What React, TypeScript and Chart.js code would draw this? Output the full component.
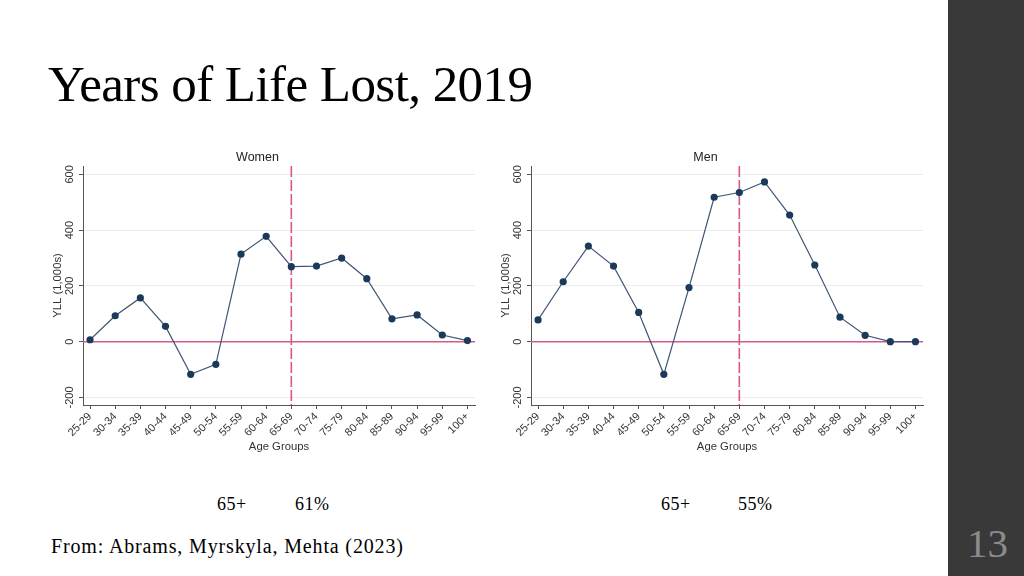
import React, { useEffect, useRef } from "react";
import { Chart, registerables } from "chart.js";

Chart.register(...registerables);

// ---------- data ----------
const ageGroups = [
  "25-29", "30-34", "35-39", "40-44", "45-49", "50-54", "55-59", "60-64",
  "65-69", "70-74", "75-79", "80-84", "85-89", "90-94", "95-99", "100+",
];
const womenYLL = [7, 93, 157, 55, -117, -81, 314, 378, 269, 271, 300, 226, 82, 96, 24, 4];
const menYLL = [78, 215, 343, 271, 105, -117, 194, 518, 535, 573, 454, 275, 88, 23, 0, 0];
const yTicks = [-200, 0, 200, 400, 600];
const cutoffGroup = "65-69";
const panelTitles = ["Women", "Men"];
const olderLabel = "65+";
const olderShares = ["61%", "55%"];
const slideTitle = "Years of Life Lost, 2019";
const sourceText = "From: Abrams, Myrskyla, Mehta (2023)";
const slideNumber = "13";

const SANS = '"Liberation Sans", Arial, sans-serif';
const SERIF = '"Liberation Serif", "Times New Roman", serif';

const refLinesPlugin = {
  id: "refLines",
  beforeDatasetsDraw(chart: any) {
    const { ctx, chartArea, scales } = chart;
    const x = scales.x;
    const y = scales.y;
    ctx.save();
    ctx.strokeStyle = "#d6588a";
    ctx.lineWidth = 1.6;
    const y0 = y.getPixelForValue(0);
    ctx.beginPath();
    ctx.moveTo(chartArea.left, y0);
    ctx.lineTo(chartArea.right, y0);
    ctx.stroke();
    const xc = x.getPixelForValue(ageGroups.indexOf(cutoffGroup));
    ctx.setLineDash([11, 3]);
    ctx.beginPath();
    ctx.moveTo(xc, chartArea.top);
    ctx.lineTo(xc, chartArea.bottom);
    ctx.stroke();
    ctx.restore();
  },
};

const yLabelPlugin = {
  id: "yLabels",
  afterDraw(chart: any) {
    const { ctx } = chart;
    const y = chart.scales.y;
    ctx.save();
    ctx.font = `11px ${SANS}`;
    ctx.fillStyle = "#333";
    ctx.textAlign = "center";
    ctx.textBaseline = "middle";
    for (const t of y.ticks) {
      ctx.save();
      ctx.translate(y.right - 13.5, y.getPixelForValue(t.value));
      ctx.rotate(-Math.PI / 2);
      ctx.fillText(String(t.value), 0, 0);
      ctx.restore();
    }
    ctx.restore();
  },
};

function Panel({ title, values, left }: { title: string; values: number[]; left: number }) {
  const ref = useRef<HTMLCanvasElement>(null);
  useEffect(() => {
    const chart = new Chart(ref.current as HTMLCanvasElement, {
      type: "line",
      data: {
        datasets: [
          {
            data: values.map((v, i) => ({ x: i, y: v })),
            borderColor: "#3e5674",
            borderWidth: 1.2,
            pointRadius: 3.6,
            pointBackgroundColor: "#1b3a5b",
            pointBorderWidth: 0,
            tension: 0,
          },
        ],
      },
      options: {
        animation: false,
        responsive: false,
        layout: { padding: { left: 0, right: 5, top: 0, bottom: 0 } },
        plugins: {
          legend: { display: false },
          tooltip: { enabled: false },
          title: {
            display: true,
            text: title,
            color: "#222",
            font: { family: SANS, size: 12.5, weight: "normal" as any },
            padding: { top: 10.5, bottom: 0.5 },
          },
        },
        scales: {
          x: {
            type: "linear",
            min: -0.28,
            max: 15.3,
            afterBuildTicks: (s: any) => {
              s.ticks = ageGroups.map((_, i) => ({ value: i }));
            },
            afterFit: (s: any) => {
              s.height = 55;
            },
            ticks: {
              autoSkip: false,
              minRotation: 45,
              maxRotation: 45,
              padding: 1,
              color: "#333",
              font: { family: SANS, size: 11 },
              callback: (v: any) => ageGroups[v] ?? "",
            },
            grid: {
              display: true,
              drawOnChartArea: false,
              drawTicks: true,
              tickLength: 4,
              tickColor: "#555",
            },
            border: { display: true, color: "#555", width: 1 },
            title: {
              display: true,
              text: "Age Groups",
              color: "#333",
              font: { family: SANS, size: 11.3 },
              padding: { top: 0, bottom: 6.8 },
            },
          },
          y: {
            type: "linear",
            min: -227,
            max: 630,
            afterBuildTicks: (s: any) => {
              s.ticks = yTicks.map((v) => ({ value: v }));
            },
            afterFit: (s: any) => {
              s.width = 43;
            },
            ticks: { display: false },
            grid: {
              color: "#ececec",
              lineWidth: 1,
              drawTicks: true,
              tickLength: 4,
              tickColor: "#555",
            },
            border: { display: true, color: "#555", width: 1 },
            title: {
              display: true,
              text: "YLL (1,000s)",
              color: "#333",
              font: { family: SANS, size: 11.3 },
              padding: { top: 10.8, bottom: 0 },
            },
          },
        },
      },
      plugins: [refLinesPlugin, yLabelPlugin],
    });
    return () => chart.destroy();
  }, [title, values]);
  return (
    <div style={{ position: "absolute", left, top: 140, width: 440, height: 320 }}>
      <canvas ref={ref} width={440} height={320} style={{ width: 440, height: 320, display: "block" }} />
    </div>
  );
}

function Text({
  left, top, size, children, color = "#000", spacing = 0,
}: { left: number; top: number; size: number; children: React.ReactNode; color?: string; spacing?: number }) {
  return (
    <div
      style={{
        position: "absolute",
        left,
        top,
        fontFamily: SERIF,
        fontSize: size,
        lineHeight: `${size}px`,
        letterSpacing: spacing,
        color,
        whiteSpace: "nowrap",
      }}
    >
      {children}
    </div>
  );
}

export default function App() {
  return (
    <div
      style={{
        position: "fixed",
        left: 0,
        top: 0,
        width: 1024,
        height: 576,
        background: "#ffffff",
        overflow: "hidden",
      }}
    >
      <Text left={48} top={59} size={51} spacing={-0.55}>{slideTitle}</Text>
      <Panel title={panelTitles[0]} values={womenYLL} left={40} />
      <Panel title={panelTitles[1]} values={menYLL} left={488} />
      <Text left={217} top={495} size={18} spacing={0.5}>{olderLabel}</Text>
      <Text left={295} top={495} size={18} spacing={0.5}>{olderShares[0]}</Text>
      <Text left={661} top={495} size={18} spacing={0.5}>{olderLabel}</Text>
      <Text left={738} top={495} size={18} spacing={0.5}>{olderShares[1]}</Text>
      <Text left={51} top={536} size={20} spacing={0.85}>{sourceText}</Text>
      <div style={{ position: "absolute", left: 948, top: 0, width: 76, height: 576, background: "#393939" }} />
      <Text left={967} top={523} size={41} color="#8c8c8c">{slideNumber}</Text>
    </div>
  );
}
